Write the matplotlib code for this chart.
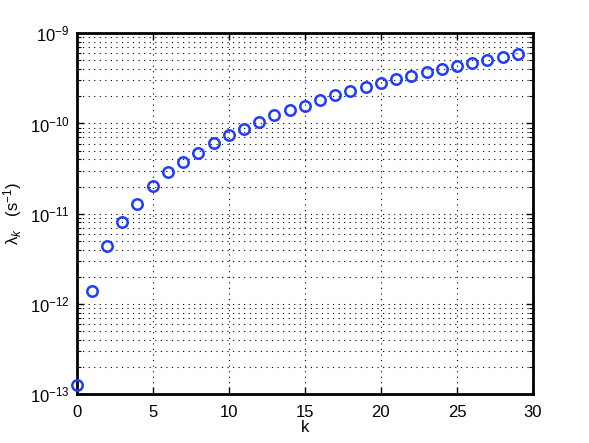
import matplotlib
matplotlib.use('Agg')
import matplotlib.pyplot as plt
from matplotlib.ticker import LogLocator, NullFormatter

plt.rcParams['font.family'] = ['Liberation Sans', 'DejaVu Sans']
plt.rcParams['mathtext.fontset'] = 'custom'
plt.rcParams['mathtext.rm'] = 'Liberation Sans'
plt.rcParams['mathtext.it'] = 'Liberation Sans:italic'
plt.rcParams['mathtext.sf'] = 'Liberation Sans'

# eigenvalue index and decay rate
k = list(range(30))
lam = [1.27e-13, 1.41e-12, 4.34e-12, 8.2e-12, 1.29e-11, 2.01e-11, 2.88e-11,
       3.72e-11, 4.72e-11, 6.04e-11, 7.42e-11, 8.73e-11, 1.035e-10, 1.23e-10,
       1.41e-10, 1.58e-10, 1.82e-10, 2.05e-10, 2.29e-10, 2.51e-10, 2.81e-10,
       3.08e-10, 3.36e-10, 3.69e-10, 4.02e-10, 4.34e-10, 4.68e-10, 5.06e-10,
       5.46e-10, 5.85e-10]

xticks = [0, 5, 10, 15, 20, 25, 30]

fig = plt.figure(figsize=(5.89, 4.43), dpi=100, facecolor='white')
ax = fig.add_axes([0.13, 0.11, 0.775, 0.815])

ax.semilogy(k, lam, 'o', markersize=7.5, markerfacecolor='none',
            markeredgecolor='#1f3cff', markeredgewidth=1.8, linestyle='none',
            clip_on=False, zorder=5)

ax.set_xlim(0, 30)
ax.set_ylim(1e-13, 1e-9)
ax.set_xticks(xticks)
ax.yaxis.set_major_locator(LogLocator(base=10, numticks=10))
ax.yaxis.set_minor_locator(LogLocator(base=10, subs=range(2, 10), numticks=20))
ax.yaxis.set_minor_formatter(NullFormatter())

dots = (0, (1, 4))
ax.grid(True, which='major', linestyle=dots, color='black', linewidth=0.8)
ax.grid(True, which='minor', axis='y', linestyle=dots, color='black', linewidth=0.8)

ax.tick_params(which='both', direction='in', top=True, right=True,
               labelsize=12, colors='black')
ax.tick_params(which='major', length=5, width=1.0, pad=5)
ax.tick_params(axis='x', which='major', pad=8)
ax.tick_params(which='minor', length=3, width=0.8)
for s in ax.spines.values():
    s.set_linewidth(2)

ax.set_xlabel('k', fontsize=12, labelpad=0)
ax.set_ylabel('λ$_k$   (s$^{-1}$)', fontsize=12, labelpad=4)

fig.savefig('out.png', dpi=100, facecolor='white')
